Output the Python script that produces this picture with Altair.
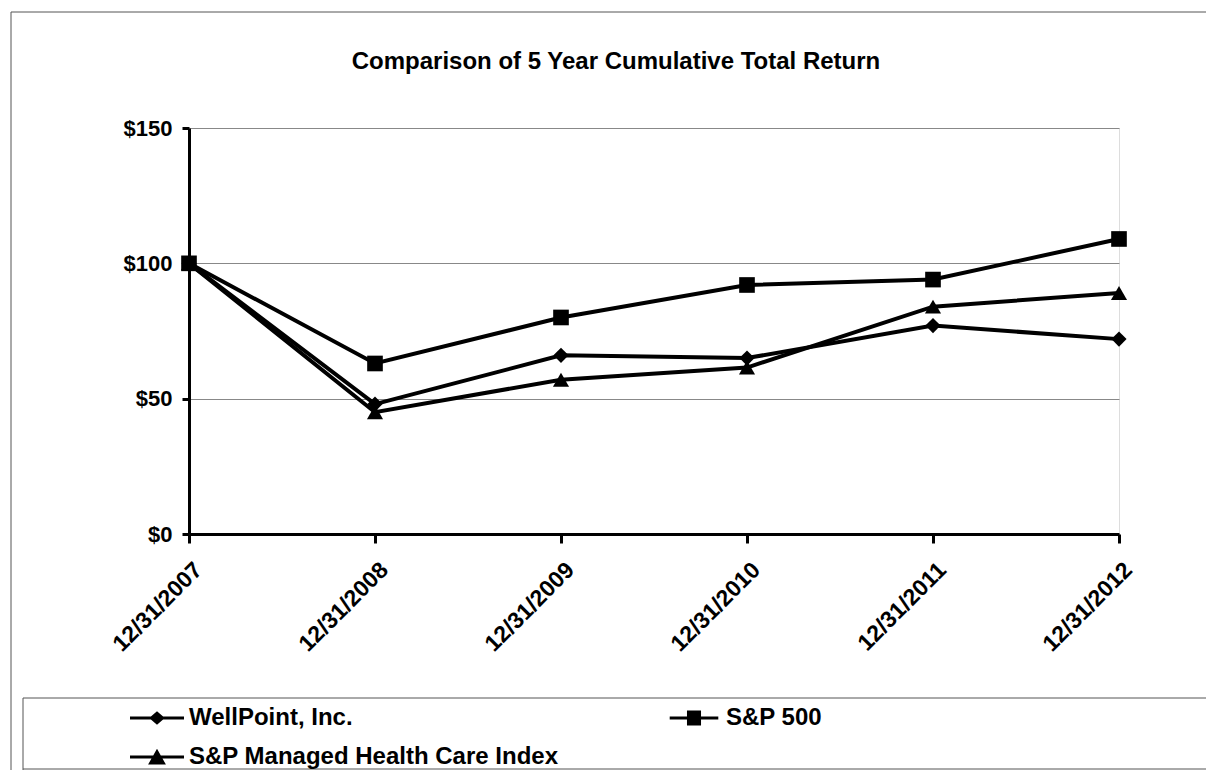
import altair as alt
import pandas as pd

dates = ["12/31/2007", "12/31/2008", "12/31/2009", "12/31/2010", "12/31/2011", "12/31/2012"]
series = ["WellPoint, Inc.", "S&P 500", "S&P Managed Health Care Index"]
wellpoint = [100, 48, 66, 65, 77, 72]
sp500 = [100, 63, 80, 92, 94, 109]
managed = [100, 45, 57, 61.5, 84, 89]
y_ticks = [0, 50, 100, 150]
title_text = "Comparison of 5 Year Cumulative Total Return"

rows = []
for name, vals in zip(series, [wellpoint, sp500, managed]):
    for d, v in zip(dates, vals):
        rows.append({"date": d, "series": name, "value": v})
df = pd.DataFrame(rows)

FONT = "Liberation Sans"

x_enc = alt.X(
    "date:O", sort=dates, title=None,
    scale=alt.Scale(type="point", padding=0),
    axis=alt.Axis(labelAngle=315, labelAlign="right", labelBaseline="middle",
                  labelPadding=23, labelOffset=9, tickSize=9, tickWidth=3,
                  tickColor="black", domainColor="black", domainWidth=3,
                  labelFont=FONT, labelFontSize=23, labelFontWeight="bold",
                  labelColor="black", grid=False),
)
y_enc = alt.Y(
    "value:Q", title=None,
    scale=alt.Scale(domain=[0, 150], nice=False, zero=True),
    axis=alt.Axis(values=y_ticks, format="$.0f", tickSize=7, tickWidth=3,
                  tickColor="black", domainColor="black", domainWidth=3,
                  labelPadding=10, labelFont=FONT, labelFontSize=22,
                  labelFontWeight="bold", labelColor="black",
                  grid=True, gridColor="#888888", gridWidth=1),
)

base = alt.Chart(df)

lines = base.mark_line(color="black", strokeWidth=4).encode(
    x=x_enc, y=y_enc, detail="series:N"
)

points = base.mark_point(filled=True, color="black", opacity=1, strokeWidth=0).encode(
    x=x_enc, y=y_enc,
    shape=alt.Shape("series:N", scale=alt.Scale(domain=series, range=["diamond", "square", "triangle-up"]), legend=None),
    size=alt.Size("series:N", scale=alt.Scale(domain=series, range=[230, 260, 340]), legend=None),
)

# legend glyphs: a short bar (the line) joined with the marker, filled
legend_paths = [
    "M-1,-0.06H1V0.06H-1ZM0,-0.25L0.29,0L0,0.25L-0.29,0Z",
    "M-0.9,-0.06H0.9V0.06H-0.9ZM-0.26,-0.28H0.26V0.28H-0.26Z",
    "M-1,-0.06H1V0.06H-1ZM0,-0.31L0.33,0.28H-0.33Z",
]

legend_layer = base.mark_point(filled=True, color="black", strokeWidth=0).encode(
    x=x_enc, y=y_enc,
    shape=alt.Shape(
        "series:N",
        scale=alt.Scale(domain=series, range=legend_paths),
        legend=alt.Legend(
            title=None, orient="none", legendX=-59, legendY=563, columns=2,
            direction="horizontal",
            columnPadding=108, rowPadding=-4, padding=0,
            symbolSize=2916, symbolStrokeWidth=0, symbolFillColor="black",
            symbolOpacity=1, labelOffset=5,
            labelFont=FONT, labelFontSize=24, labelFontWeight="bold",
            labelColor="black", labelLimit=600,
        ),
    ),
).transform_filter(alt.datum.value < 0)

one = alt.Data(values=[{}])
FR = "#555555"
title_mark = alt.Chart(one).mark_text(
    text=title_text, font=FONT, fontSize=24, fontWeight="bold", color="black",
    align="center", baseline="alphabetic",
).encode(x=alt.value(427), y=alt.value(-59))
frame_top = alt.Chart(one).mark_rule(color=FR, strokeWidth=1).encode(
    x=alt.value(-178), x2=alt.value(1017), y=alt.value(-116))
frame_left = alt.Chart(one).mark_rule(color=FR, strokeWidth=1).encode(
    x=alt.value(-178), y=alt.value(-116), y2=alt.value(642))
leg_top = alt.Chart(one).mark_rule(color=FR, strokeWidth=1).encode(
    x=alt.value(-166), x2=alt.value(1017), y=alt.value(570))
leg_left = alt.Chart(one).mark_rule(color=FR, strokeWidth=1).encode(
    x=alt.value(-166), y=alt.value(570), y2=alt.value(642))
leg_bottom = alt.Chart(one).mark_rule(color=FR, strokeWidth=1).encode(
    x=alt.value(-166), x2=alt.value(1017), y=alt.value(641))

chart = alt.layer(
    lines, points, legend_layer, title_mark,
    frame_top, frame_left, leg_top, leg_left, leg_bottom
).resolve_scale(
    shape="independent"
).properties(
    width=930, height=406,
    padding={"left": 181, "top": 120, "right": 87, "bottom": 236},
    autosize=alt.AutoSizeParams(type="none"),
).configure_view(strokeWidth=0).configure(background="white")

chart.save("out.html", embed_options={"renderer": "svg", "actions": False})
